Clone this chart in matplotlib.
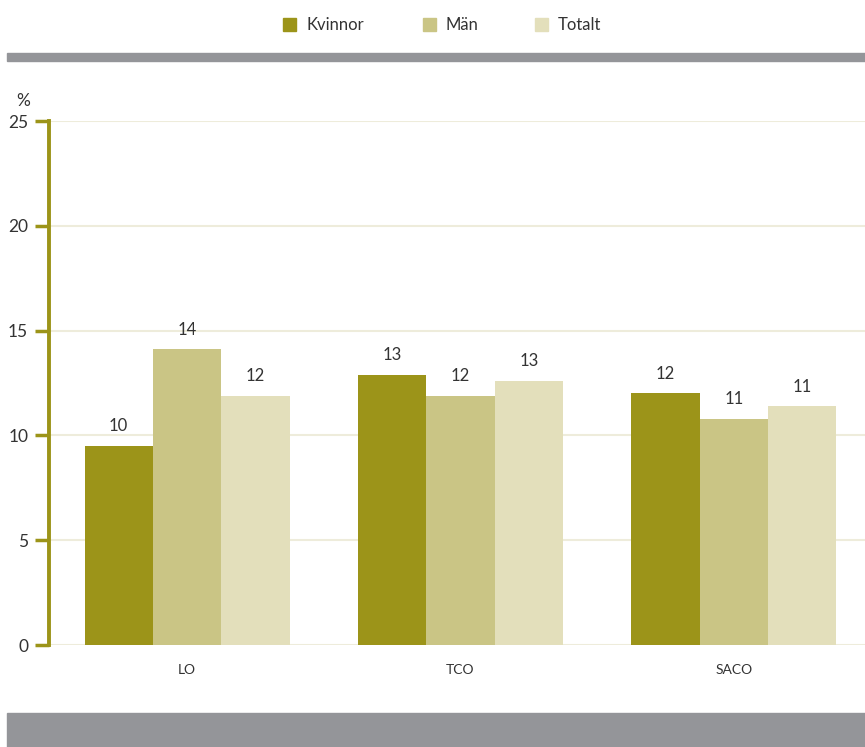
import numpy as np
import matplotlib
matplotlib.use("Agg")
import matplotlib.pyplot as plt
from matplotlib.patches import Rectangle

plt.rcParams['font.family'] = ['Lato', 'DejaVu Sans']

# data
grupper = ["LO", "TCO", "SACO"]
serier = ["Kvinnor", "Män", "Totalt"]
kvinnor = [9.5, 12.9, 12.0]
man = [14.1, 11.9, 10.8]
totalt = [11.9, 12.6, 11.4]
etiketter = [["10", "13", "12"], ["14", "12", "11"], ["12", "13", "11"]]
yticks = [0, 5, 10, 15, 20, 25]

farger = ["#9C9419", "#CAC585", "#E3DFBB"]
olive = "#9C9419"
gra = "#949599"
textfarg = "#333333"

fig = plt.figure(figsize=(8.65, 7.47), dpi=100)
W, H = 865, 747

# axes in pixel coords
left, right, top, bottom = 49, 865, 121, 645
ax = fig.add_axes([left / W, 1 - bottom / H, (right - left) / W, (bottom - top) / H])

x = np.arange(len(grupper))
bredd = 0.25
for i, (vals, farg) in enumerate(zip([kvinnor, man, totalt], farger)):
    pos = x + (i - 1) * bredd
    ax.bar(pos, vals, width=bredd, color=farg, zorder=3)
    for p, v, t in zip(pos, vals, etiketter[i]):
        ax.text(p, v + 0.55, t, ha="center", va="bottom", fontsize=12, color=textfarg)

ax.set_ylim(0, 25)
ax.set_xlim(-0.505, 2.48)
ax.set_yticks(yticks)
ax.set_yticklabels([str(t) for t in yticks], fontsize=12.5, color=textfarg)
ax.set_xticks(x)
ax.set_xticklabels(grupper, fontsize=10, color=textfarg)
ax.tick_params(axis="x", length=0, pad=14)
ax.tick_params(axis="y", length=10, width=2.5, color=olive, pad=5)

ax.grid(axis="y", color="#EEECDB", linewidth=1.5, zorder=0)
ax.axhline(0, color="#EEECDB", linewidth=2, zorder=1)
for s in ["top", "right", "bottom"]:
    ax.spines[s].set_visible(False)
ax.spines["left"].set_color(olive)
ax.spines["left"].set_linewidth(2.8)
ax.spines["left"].set_zorder(4)

fig.text(16 / W, 1 - 101 / H, "%", fontsize=12.5, color=textfarg, ha="left", va="center")

# legend
leg_x = [283, 423, 535]
for lx, namn, farg in zip(leg_x, serier, farger):
    fig.patches.append(Rectangle((lx / W, 1 - 31 / H), 13 / W, 13 / H,
                                 transform=fig.transFigure, color=farg))
    fig.text((lx + 23) / W, 1 - 25 / H, namn, fontsize=12, color=textfarg,
             ha="left", va="center")

# grey bands
fig.patches.append(Rectangle((7 / W, 1 - 61 / H), (W - 7) / W, 8 / H,
                             transform=fig.transFigure, color=gra))
fig.patches.append(Rectangle((7 / W, 0), (W - 7) / W, 34 / H,
                             transform=fig.transFigure, color=gra))

fig.savefig("out.png", dpi=100)
